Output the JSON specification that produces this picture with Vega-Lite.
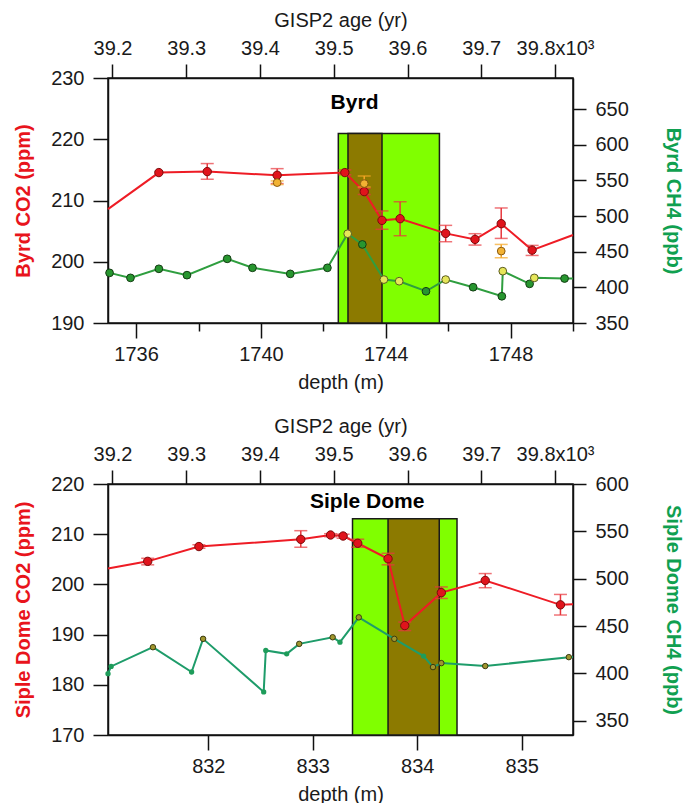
{
  "$schema": "https://vega.github.io/schema/vega-lite/v6.json",
  "background": "white",
  "padding": {"left": 12, "top": 9, "right": 4, "bottom": 4},
  "spacing": 22,
  "config": {
    "font": "Liberation Sans",
    "view": {"stroke": "#111", "strokeWidth": 1.5},
    "axis": {
      "grid": false,
      "domainColor": "#111", "domainWidth": 1.5,
      "tickColor": "#111", "tickWidth": 1.5, "tickSize": 14,
      "labelFont": "Liberation Sans", "labelFontSize": 20, "labelColor": "#1a1a1a",
      "labelPadding": 6, "labelOverlap": false, "labelFlush": false,
      "titleFont": "Liberation Sans", "titleFontSize": 20, "titleFontWeight": "normal", "titleColor": "#1a1a1a",
      "titlePadding": 8
    }
  },
  "datasets": {
    "age_range": [{"age": 39193.9}, {"age": 39824.4}],
    "byrd_box": [
      {"start": 1742.48, "end": 1745.72, "bottom": 190, "top": 220.94, "kind": "outer"},
      {"start": 1742.79, "end": 1743.88, "bottom": 190, "top": 220.94, "kind": "core"}
    ],
    "byrd_label": [{"label": "Byrd", "depth": 1743.0, "co2": 226.0}],
    "byrd_co2": [
      {"depth": 1735.1, "co2": 208.6, "lo": null, "hi": null, "kind": "edge"},
      {"depth": 1736.73, "co2": 214.56, "lo": null, "hi": null, "kind": "main"},
      {"depth": 1738.28, "co2": 214.72, "lo": 213.47, "hi": 216.03, "kind": "main"},
      {"depth": 1740.52, "co2": 214.12, "lo": 212.76, "hi": 215.2, "kind": "main"},
      {"depth": 1740.52, "co2": 212.92, "lo": 212.6, "hi": 213.2, "kind": "orange"},
      {"depth": 1742.69, "co2": 214.56, "lo": 214.2, "hi": 215.0, "kind": "main"},
      {"depth": 1743.31, "co2": 211.45, "lo": 211.0, "hi": 212.0, "kind": "main"},
      {"depth": 1743.31, "co2": 212.76, "lo": 212.2, "hi": 214.0, "kind": "orange"},
      {"depth": 1743.88, "co2": 206.76, "lo": 205.3, "hi": 208.3, "kind": "main"},
      {"depth": 1744.46, "co2": 207.03, "lo": 204.25, "hi": 209.8, "kind": "main"},
      {"depth": 1745.92, "co2": 204.63, "lo": 203.27, "hi": 205.94, "kind": "main"},
      {"depth": 1746.86, "co2": 203.65, "lo": 202.72, "hi": 204.58, "kind": "main"},
      {"depth": 1747.7, "co2": 206.21, "lo": 203.81, "hi": 208.78, "kind": "main"},
      {"depth": 1747.7, "co2": 201.74, "lo": 200.65, "hi": 202.83, "kind": "orange"},
      {"depth": 1748.69, "co2": 201.9, "lo": 201.03, "hi": 202.67, "kind": "main"},
      {"depth": 1750.0, "co2": 204.36, "lo": null, "hi": null, "kind": "edge"}
    ],
    "byrd_ch4": [
      {"depth": 1735.15, "ch4": 420.3, "kind": "green"},
      {"depth": 1735.82, "ch4": 413.3, "kind": "green"},
      {"depth": 1736.73, "ch4": 426.0, "kind": "green"},
      {"depth": 1737.63, "ch4": 417.1, "kind": "green"},
      {"depth": 1738.92, "ch4": 440.0, "kind": "green"},
      {"depth": 1739.73, "ch4": 427.4, "kind": "green"},
      {"depth": 1740.94, "ch4": 418.9, "kind": "green"},
      {"depth": 1742.13, "ch4": 427.4, "kind": "green"},
      {"depth": 1742.78, "ch4": 475.2, "kind": "yellow"},
      {"depth": 1743.25, "ch4": 460.2, "kind": "green"},
      {"depth": 1743.94, "ch4": 410.9, "kind": "yellow"},
      {"depth": 1744.43, "ch4": 408.6, "kind": "yellow"},
      {"depth": 1745.29, "ch4": 394.5, "kind": "green"},
      {"depth": 1745.92, "ch4": 410.9, "kind": "yellow"},
      {"depth": 1746.8, "ch4": 400.2, "kind": "green"},
      {"depth": 1747.72, "ch4": 387.5, "kind": "green"},
      {"depth": 1747.75, "ch4": 422.7, "kind": "yellow"},
      {"depth": 1748.61, "ch4": 404.9, "kind": "green"},
      {"depth": 1748.76, "ch4": 413.3, "kind": "yellow"},
      {"depth": 1749.73, "ch4": 412.4, "kind": "green"},
      {"depth": 1750.0, "ch4": 412.4, "kind": "edge"}
    ],
    "siple_box": [
      {"start": 833.38, "end": 834.38, "bottom": 170, "top": 213.1, "kind": "outer"},
      {"start": 833.72, "end": 834.21, "bottom": 170, "top": 213.1, "kind": "core"}
    ],
    "siple_label": [{"label": "Siple Dome", "depth": 833.52, "co2": 216.4}],
    "siple_co2": [
      {"depth": 831.04, "co2": 203.15, "lo": null, "hi": null, "kind": "edge"},
      {"depth": 831.42, "co2": 204.59, "lo": 203.9, "hi": 205.2, "kind": "main"},
      {"depth": 831.91, "co2": 207.54, "lo": 207.2, "hi": 207.9, "kind": "main"},
      {"depth": 832.885, "co2": 208.98, "lo": 207.4, "hi": 210.7, "kind": "main"},
      {"depth": 833.17, "co2": 209.84, "lo": 209.5, "hi": 210.1, "kind": "main"},
      {"depth": 833.29, "co2": 209.64, "lo": 209.2, "hi": 210.0, "kind": "main"},
      {"depth": 833.43, "co2": 208.2, "lo": 207.4, "hi": 209.0, "kind": "main"},
      {"depth": 833.72, "co2": 205.1, "lo": 203.9, "hi": 206.2, "kind": "main"},
      {"depth": 833.88, "co2": 191.8, "lo": 190.8, "hi": 192.5, "kind": "main"},
      {"depth": 834.23, "co2": 198.36, "lo": 197.2, "hi": 199.5, "kind": "main"},
      {"depth": 834.65, "co2": 200.79, "lo": 199.34, "hi": 202.16, "kind": "main"},
      {"depth": 835.37, "co2": 195.93, "lo": 193.9, "hi": 198.0, "kind": "main"},
      {"depth": 835.49, "co2": 196.07, "lo": null, "hi": null, "kind": "edge"}
    ],
    "siple_ch4": [
      {"depth": 831.04, "ch4": 399.7, "kind": "green"},
      {"depth": 831.07, "ch4": 407.4, "kind": "green"},
      {"depth": 831.47, "ch4": 427.7, "kind": "olive"},
      {"depth": 831.84, "ch4": 401.5, "kind": "green"},
      {"depth": 831.95, "ch4": 436.5, "kind": "olive"},
      {"depth": 832.53, "ch4": 380.5, "kind": "green"},
      {"depth": 832.55, "ch4": 424.2, "kind": "green"},
      {"depth": 832.75, "ch4": 420.7, "kind": "green"},
      {"depth": 832.87, "ch4": 431.2, "kind": "olive"},
      {"depth": 833.19, "ch4": 438.2, "kind": "olive"},
      {"depth": 833.26, "ch4": 433.0, "kind": "green"},
      {"depth": 833.44, "ch4": 459.2, "kind": "olive"},
      {"depth": 833.78, "ch4": 436.5, "kind": "olive"},
      {"depth": 834.06, "ch4": 418.3, "kind": "green"},
      {"depth": 834.15, "ch4": 406.7, "kind": "olive"},
      {"depth": 834.23, "ch4": 410.9, "kind": "olive"},
      {"depth": 834.65, "ch4": 407.8, "kind": "olive"},
      {"depth": 835.45, "ch4": 417.2, "kind": "olive"},
      {"depth": 835.49, "ch4": 417.4, "kind": "edge"}
    ]
  },
  "vconcat": [
    {
      "width": 465,
      "height": 245,
      "resolve": {"scale": {"x": "independent", "y": "independent"}},
      "layer": [
        {
          "layer": [
            {
              "data": {"name": "byrd_box"},
              "mark": {"type": "rect", "stroke": "#1a1a1a", "strokeWidth": 1.5},
              "encoding": {
                "x": {"field": "start", "type": "quantitative",
                  "scale": {"domain": [1735.1, 1750], "nice": false, "zero": false},
                  "axis": {"title": "depth (m)", "values": [1736, 1738, 1740, 1742, 1744, 1746, 1748, 1750],
                    "labelExpr": "datum.value % 4 == 0 ? format(datum.value, 'd') : ''",
                    "tickSize": {"condition": {"test": "datum.value % 4 == 0", "value": 15}, "value": 8}}},
                "x2": {"field": "end"},
                "y": {"field": "bottom", "type": "quantitative",
                  "scale": {"domain": [190, 230], "nice": false, "zero": false},
                  "axis": {"title": "Byrd CO2 (ppm)", "values": [190, 200, 210, 220, 230],
                    "titleColor": "#e8141c", "titleFontWeight": "bold", "labelPadding": 9, "tickSize": 15, "titlePadding": 17}},
                "y2": {"field": "top"},
                "color": {"field": "kind", "type": "nominal",
                  "scale": {"domain": ["outer", "core"], "range": ["#80ff00", "#8c7a00"]}, "legend": null}
              }
            },
            {
              "data": {"name": "byrd_co2"},
              "transform": [{"filter": "datum.kind != 'orange'"}],
              "mark": {"type": "line", "color": "#ee1c25", "strokeWidth": 2},
              "encoding": {
                "x": {"field": "depth", "type": "quantitative"},
                "y": {"field": "co2", "type": "quantitative"}
              }
            },
            {
              "data": {"name": "byrd_co2"},
              "transform": [{"filter": "datum.kind == 'main' && isValid(datum.lo)"}],
              "mark": {"type": "rule", "color": "#e8373d", "strokeWidth": 1.5},
              "encoding": {
                "x": {"field": "depth", "type": "quantitative"},
                "y": {"field": "lo", "type": "quantitative"},
                "y2": {"field": "hi"}
              }
            },
            {
              "data": {"name": "byrd_co2"},
              "transform": [{"filter": "datum.kind == 'main' && isValid(datum.lo)"}, {"fold": ["lo", "hi"], "as": ["end", "val"]}],
              "mark": {"type": "tick", "orient": "horizontal", "color": "#e8373d", "size": 13, "thickness": 1.5},
              "encoding": {
                "x": {"field": "depth", "type": "quantitative"},
                "y": {"field": "val", "type": "quantitative"}
              }
            },
            {
              "data": {"name": "byrd_co2"},
              "transform": [{"filter": "datum.kind == 'orange'"}],
              "mark": {"type": "rule", "color": "#f5a623", "strokeWidth": 1.5},
              "encoding": {
                "x": {"field": "depth", "type": "quantitative"},
                "y": {"field": "lo", "type": "quantitative"},
                "y2": {"field": "hi"}
              }
            },
            {
              "data": {"name": "byrd_co2"},
              "transform": [{"filter": "datum.kind == 'orange'"}, {"fold": ["lo", "hi"], "as": ["end", "val"]}],
              "mark": {"type": "tick", "orient": "horizontal", "color": "#f5a623", "size": 13, "thickness": 1.5},
              "encoding": {
                "x": {"field": "depth", "type": "quantitative"},
                "y": {"field": "val", "type": "quantitative"}
              }
            },
            {
              "data": {"name": "byrd_co2"},
              "transform": [{"filter": "datum.kind == 'main'"}],
              "mark": {"type": "point", "filled": true, "fill": "#e0141c", "stroke": "#7a0a0a", "strokeWidth": 1, "size": 70, "opacity": 1},
              "encoding": {
                "x": {"field": "depth", "type": "quantitative"},
                "y": {"field": "co2", "type": "quantitative"}
              }
            },
            {
              "data": {"name": "byrd_co2"},
              "transform": [{"filter": "datum.kind == 'orange'"}],
              "mark": {"type": "point", "filled": true, "fill": "#f2b233", "stroke": "#8a5a10", "strokeWidth": 1, "size": 60, "opacity": 1},
              "encoding": {
                "x": {"field": "depth", "type": "quantitative"},
                "y": {"field": "co2", "type": "quantitative"}
              }
            },
            {
              "data": {"name": "byrd_label"},
              "mark": {"type": "text", "font": "Liberation Sans", "fontWeight": "bold", "fontSize": 21, "color": "#000"},
              "encoding": {
                "x": {"field": "depth", "type": "quantitative"},
                "y": {"field": "co2", "type": "quantitative"},
                "text": {"field": "label"}
              }
            }
          ]
        },
        {
          "layer": [
            {
              "data": {"name": "byrd_ch4"},
              "mark": {"type": "line", "color": "#2f9e3f", "strokeWidth": 2},
              "encoding": {
                "x": {"field": "depth", "type": "quantitative", "scale": {"domain": [1735.1, 1750], "nice": false, "zero": false}, "axis": null},
                "y": {"field": "ch4", "type": "quantitative",
                  "scale": {"domain": [350, 693.6], "nice": false, "zero": false},
                  "axis": {"orient": "right", "title": "Byrd CH4 (ppb)", "values": [350, 400, 450, 500, 550, 600, 650],
                    "titleColor": "#10a050", "titleFontWeight": "bold", "tickSize": 13, "labelPadding": 9, "titlePadding": 34}}
              }
            },
            {
              "data": {"name": "byrd_ch4"},
              "transform": [{"filter": "datum.kind == 'green'"}],
              "mark": {"type": "point", "filled": true, "fill": "#27962f", "stroke": "#143d14", "strokeWidth": 1, "size": 60, "opacity": 1},
              "encoding": {
                "x": {"field": "depth", "type": "quantitative", "scale": {"domain": [1735.1, 1750], "nice": false, "zero": false}, "axis": null},
                "y": {"field": "ch4", "type": "quantitative"}
              }
            },
            {
              "data": {"name": "byrd_ch4"},
              "transform": [{"filter": "datum.kind == 'yellow'"}],
              "mark": {"type": "point", "filled": true, "fill": "#e6e65a", "stroke": "#5a5a20", "strokeWidth": 1, "size": 60, "opacity": 1},
              "encoding": {
                "x": {"field": "depth", "type": "quantitative", "scale": {"domain": [1735.1, 1750], "nice": false, "zero": false}, "axis": null},
                "y": {"field": "ch4", "type": "quantitative"}
              }
            }
          ]
        },
        {
          "data": {"name": "age_range"},
          "mark": {"type": "point", "opacity": 0},
          "encoding": {
            "x": {"field": "age", "type": "quantitative",
              "scale": {"domain": [39193.9, 39824.4], "nice": false, "zero": false},
              "axis": {"orient": "top", "title": "GISP2 age (yr)", "values": [39200, 39300, 39400, 39500, 39600, 39700, 39800],
                "labelExpr": "datum.value == 39800 ? '39.8x10³' : format(datum.value / 1000, '.1f')", "tickSize": 14}}
          }
        }
      ]
    },
    {
      "width": 465,
      "height": 251,
      "resolve": {"scale": {"x": "independent", "y": "independent"}},
      "layer": [
        {
          "layer": [
            {
              "data": {"name": "siple_box"},
              "mark": {"type": "rect", "stroke": "#1a1a1a", "strokeWidth": 1.5},
              "encoding": {
                "x": {"field": "start", "type": "quantitative",
                  "scale": {"domain": [831.04, 835.49], "nice": false, "zero": false},
                  "axis": {"title": "depth (m)", "values": [832, 833, 834, 835], "format": "d", "tickSize": 15}},
                "x2": {"field": "end"},
                "y": {"field": "bottom", "type": "quantitative",
                  "scale": {"domain": [170, 220], "nice": false, "zero": false},
                  "axis": {"title": "Siple Dome CO2 (ppm)", "values": [170, 180, 190, 200, 210, 220],
                    "titleColor": "#e8141c", "titleFontWeight": "bold", "labelPadding": 9, "tickSize": 15, "titlePadding": 17}},
                "y2": {"field": "top"},
                "color": {"field": "kind", "type": "nominal",
                  "scale": {"domain": ["outer", "core"], "range": ["#80ff00", "#8c7a00"]}, "legend": null}
              }
            },
            {
              "data": {"name": "siple_co2"},
              "mark": {"type": "line", "color": "#ee1c25", "strokeWidth": 2},
              "encoding": {
                "x": {"field": "depth", "type": "quantitative"},
                "y": {"field": "co2", "type": "quantitative"}
              }
            },
            {
              "data": {"name": "siple_co2"},
              "transform": [{"filter": "datum.kind == 'main' && isValid(datum.lo)"}],
              "mark": {"type": "rule", "color": "#e8373d", "strokeWidth": 1.5},
              "encoding": {
                "x": {"field": "depth", "type": "quantitative"},
                "y": {"field": "lo", "type": "quantitative"},
                "y2": {"field": "hi"}
              }
            },
            {
              "data": {"name": "siple_co2"},
              "transform": [{"filter": "datum.kind == 'main' && isValid(datum.lo)"}, {"fold": ["lo", "hi"], "as": ["end", "val"]}],
              "mark": {"type": "tick", "orient": "horizontal", "color": "#e8373d", "size": 13, "thickness": 1.5},
              "encoding": {
                "x": {"field": "depth", "type": "quantitative"},
                "y": {"field": "val", "type": "quantitative"}
              }
            },
            {
              "data": {"name": "siple_co2"},
              "transform": [{"filter": "datum.kind == 'main'"}],
              "mark": {"type": "point", "filled": true, "fill": "#e0141c", "stroke": "#7a0a0a", "strokeWidth": 1, "size": 70, "opacity": 1},
              "encoding": {
                "x": {"field": "depth", "type": "quantitative"},
                "y": {"field": "co2", "type": "quantitative"}
              }
            },
            {
              "data": {"name": "siple_label"},
              "mark": {"type": "text", "font": "Liberation Sans", "fontWeight": "bold", "fontSize": 21, "color": "#000"},
              "encoding": {
                "x": {"field": "depth", "type": "quantitative"},
                "y": {"field": "co2", "type": "quantitative"},
                "text": {"field": "label"}
              }
            }
          ]
        },
        {
          "layer": [
            {
              "data": {"name": "siple_ch4"},
              "mark": {"type": "line", "color": "#1e9c6a", "strokeWidth": 2},
              "encoding": {
                "x": {"field": "depth", "type": "quantitative", "scale": {"domain": [831.04, 835.49], "nice": false, "zero": false}, "axis": null},
                "y": {"field": "ch4", "type": "quantitative",
                  "scale": {"domain": [335, 600], "nice": false, "zero": false},
                  "axis": {"orient": "right", "title": "Siple Dome CH4 (ppb)", "values": [350, 400, 450, 500, 550, 600],
                    "titleColor": "#10a050", "titleFontWeight": "bold", "tickSize": 13, "labelPadding": 9, "titlePadding": 34}}
              }
            },
            {
              "data": {"name": "siple_ch4"},
              "transform": [{"filter": "datum.kind == 'green'"}],
              "mark": {"type": "point", "filled": true, "fill": "#1e9c5a", "strokeWidth": 0, "size": 28, "opacity": 1},
              "encoding": {
                "x": {"field": "depth", "type": "quantitative", "scale": {"domain": [831.04, 835.49], "nice": false, "zero": false}, "axis": null},
                "y": {"field": "ch4", "type": "quantitative"}
              }
            },
            {
              "data": {"name": "siple_ch4"},
              "transform": [{"filter": "datum.kind == 'olive'"}],
              "mark": {"type": "point", "filled": true, "fill": "#a0962e", "stroke": "#3a3a10", "strokeWidth": 1, "size": 30, "opacity": 1},
              "encoding": {
                "x": {"field": "depth", "type": "quantitative", "scale": {"domain": [831.04, 835.49], "nice": false, "zero": false}, "axis": null},
                "y": {"field": "ch4", "type": "quantitative"}
              }
            }
          ]
        },
        {
          "data": {"name": "age_range"},
          "mark": {"type": "point", "opacity": 0},
          "encoding": {
            "x": {"field": "age", "type": "quantitative",
              "scale": {"domain": [39193.9, 39824.4], "nice": false, "zero": false},
              "axis": {"orient": "top", "title": "GISP2 age (yr)", "values": [39200, 39300, 39400, 39500, 39600, 39700, 39800],
                "labelExpr": "datum.value == 39800 ? '39.8x10³' : format(datum.value / 1000, '.1f')", "tickSize": 14}}
          }
        }
      ]
    }
  ]
}
